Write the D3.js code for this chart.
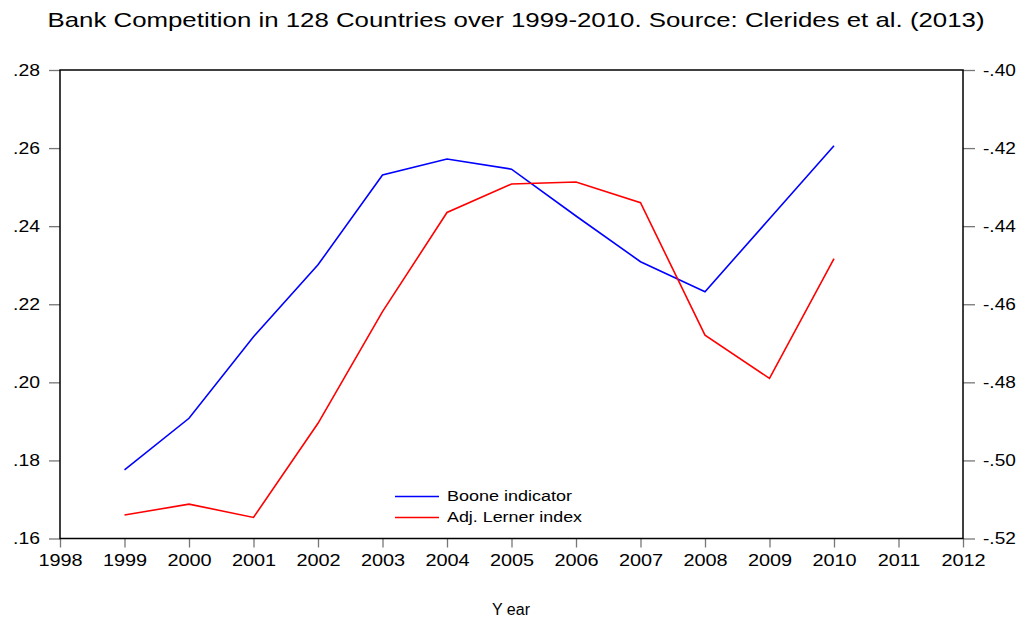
<!DOCTYPE html>
<html lang="en">
<head>
<meta charset="utf-8">
<script src="https://d3js.org/d3.v7.min.js"></script>
<style>
  body { margin: 0; background: #fff; }
  text { font-family: "Liberation Sans", Arial, sans-serif; fill: #000; }
</style>
</head>
<body>
<svg id="chart" width="1021" height="619"></svg>
<script>
// data
const years = [1999, 2000, 2001, 2002, 2003, 2004, 2005, 2006, 2007, 2008, 2009, 2010];
const boone = [-.5024, -.4892, -.4683, -.4499, -.4269, -.4228, -.4254, -.4374, -.4491, -.4568, -.4381, -.4194];
const lerner = [.1660, .1688, .1654, .1895, .2181, .2435, .2508, .2513, .2460, .2121, .2010, .2317];
const xTicks = d3.range(1998, 2013);
const leftTicks = [.16, .18, .20, .22, .24, .26, .28];
const rightTicks = [-.52, -.50, -.48, -.46, -.44, -.42, -.40];

const svg = d3.select("#chart");
const mLeft = 60, mRight = 963, mTop = 70, mBottom = 538.5;

const x = d3.scaleLinear().domain([1998, 2012]).range([mLeft, mRight]);
const yL = d3.scaleLinear().domain([.16, .28]).range([mBottom, mTop]);
const yR = d3.scaleLinear().domain([-.52, -.40]).range([mBottom, mTop]);

// ".20" / "-.42" style labels, plain hyphen for the minus
const fmt = v => d3.format(".2f")(v).replace("\u2212", "-").replace("0.", ".");

// the source font is drawn wider than Liberation Sans, so stretch text
function stretch(sel, k) {
  sel.each(function () {
    const w = this.getComputedTextLength();
    this.setAttribute("textLength", w * k);
    this.setAttribute("lengthAdjust", "spacingAndGlyphs");
  });
}

// title
const title = svg.append("text")
  .attr("x", 516).attr("y", 27)
  .attr("text-anchor", "middle")
  .style("font-size", "21px")
  .text("Bank Competition in 128 Countries over 1999-2010. Source: Clerides et al. (2013)");
title.attr("textLength", 937).attr("lengthAdjust", "spacingAndGlyphs");

// axes
const gx = svg.append("g").attr("transform", `translate(0,${mBottom})`)
  .call(d3.axisBottom(x).tickValues(xTicks).tickFormat(d3.format("d")).tickSize(9).tickPadding(6));
const gl = svg.append("g").attr("transform", `translate(${mLeft},0)`)
  .call(d3.axisLeft(yL).tickValues(leftTicks).tickFormat(fmt).tickSize(11).tickPadding(9));
const gr = svg.append("g").attr("transform", `translate(${mRight},0)`)
  .call(d3.axisRight(yR).tickValues(rightTicks).tickFormat(fmt).tickSize(12).tickPadding(8));

[gx, gl, gr].forEach(g => {
  g.select(".domain").remove();
  g.selectAll(".tick line").attr("stroke", "#777").attr("stroke-width", 1.3);
  g.selectAll(".tick text").style("font-size", "17px").attr("font-family", null);
});
stretch(gx.selectAll(".tick text"), 1.17);
stretch(gl.selectAll(".tick text"), 1.14);
stretch(gr.selectAll(".tick text"), 1.12);

// frame
svg.append("rect")
  .attr("x", mLeft).attr("y", mTop)
  .attr("width", mRight - mLeft).attr("height", mBottom - mTop)
  .attr("fill", "none").attr("stroke", "#000").attr("stroke-width", 1.5);

// lines
const lineL = d3.line().x((d, i) => x(years[i])).y(d => yL(d));
const lineR = d3.line().x((d, i) => x(years[i])).y(d => yR(d));

svg.append("path").datum(boone)
  .attr("d", lineR).attr("fill", "none").attr("stroke", "#0000ff").attr("stroke-width", 1.6);
svg.append("path").datum(lerner)
  .attr("d", lineL).attr("fill", "none").attr("stroke", "#ff0000").attr("stroke-width", 1.6);

// legend
const legend = [["Boone indicator", "#0000ff", 125], ["Adj. Lerner index", "#ff0000", 135]];
legend.forEach((d, i) => {
  const ly = 496.5 + i * 21;
  svg.append("line").attr("x1", 395).attr("x2", 439).attr("y1", ly).attr("y2", ly)
    .attr("stroke", d[1]).attr("stroke-width", 1.6);
  svg.append("text").attr("x", 447).attr("y", ly + 4.5)
    .style("font-size", "14px")
    .attr("textLength", d[2]).attr("lengthAdjust", "spacingAndGlyphs")
    .text(d[0]);
});

// x axis title
svg.append("text")
  .attr("x", 511).attr("y", 615)
  .attr("text-anchor", "middle")
  .style("font-size", "16px")
  .text("Y ear");
</script>
</body>
</html>
